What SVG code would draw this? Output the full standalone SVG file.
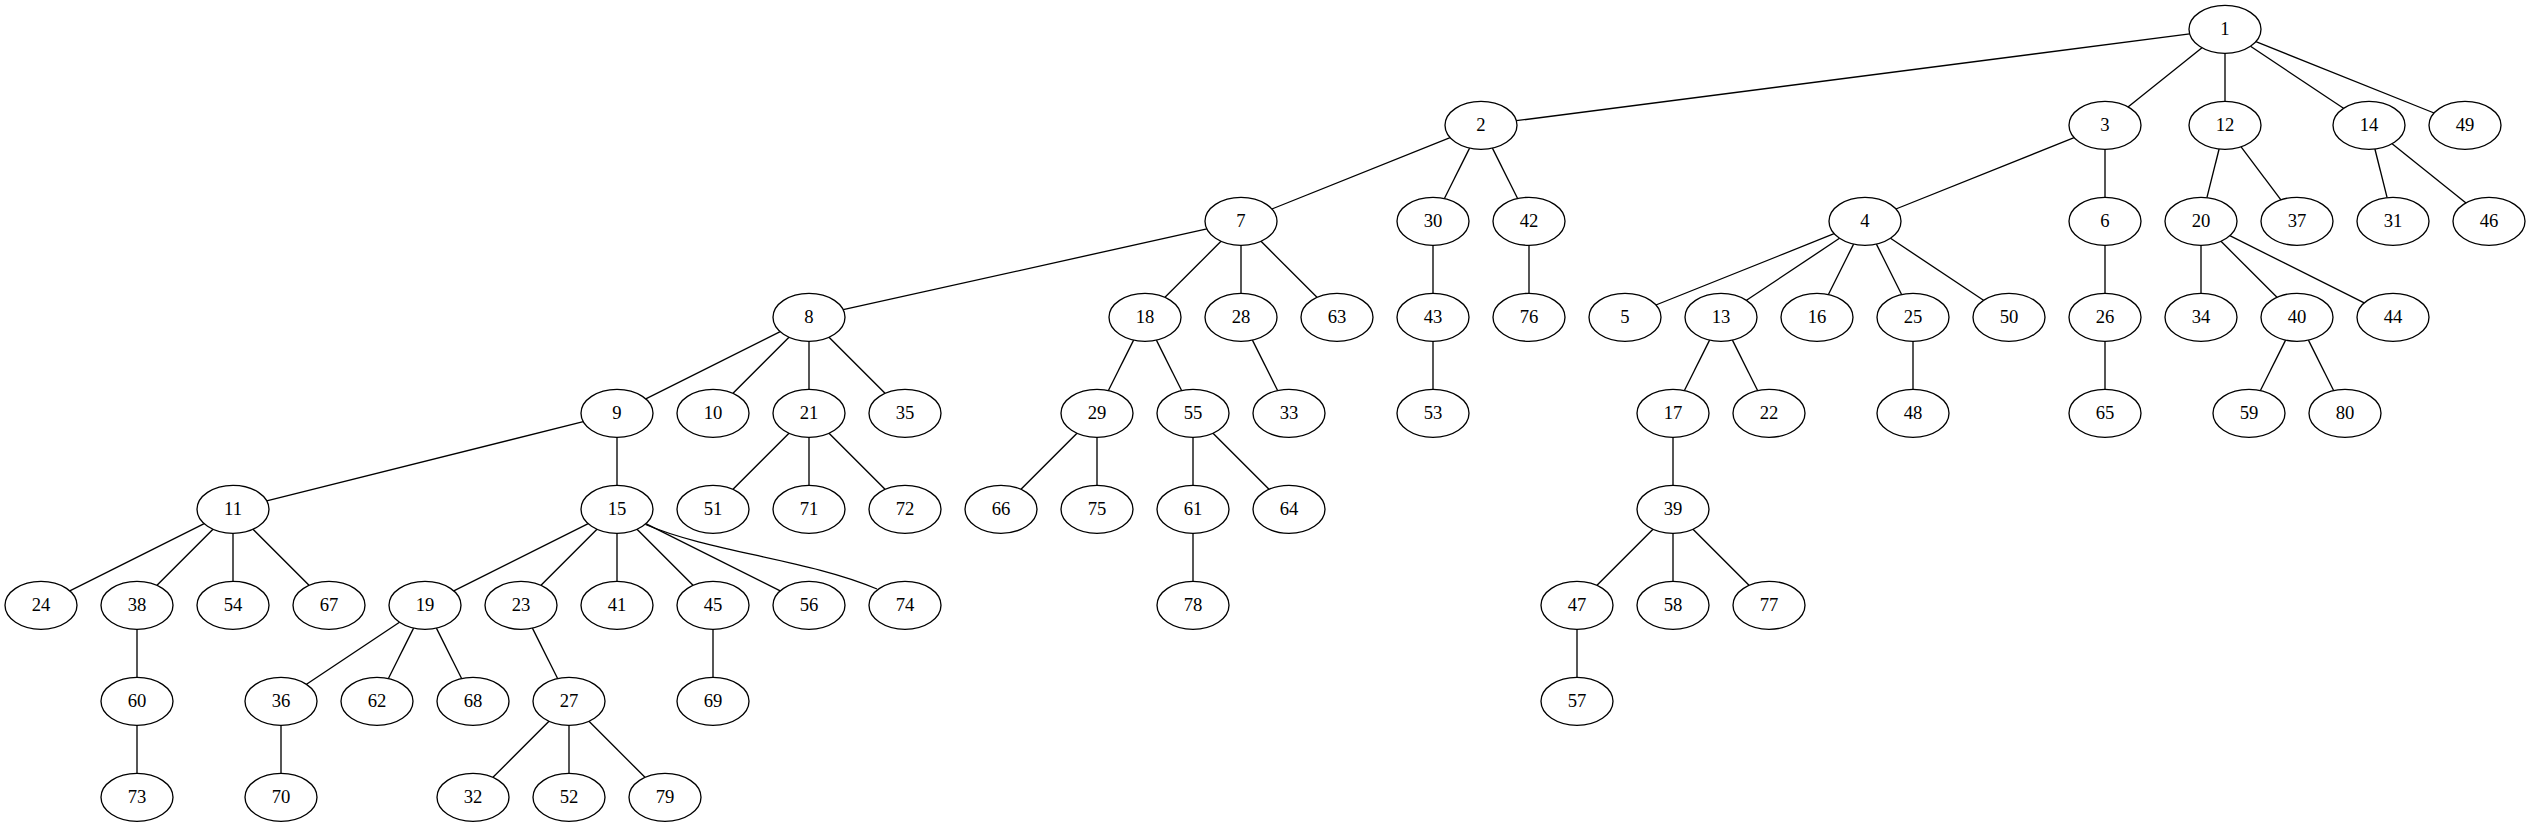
<svg xmlns="http://www.w3.org/2000/svg" width="2531" height="827" viewBox="0 0 2531 827">
<style>
.n ellipse{fill:#ffffff;stroke:#000000;stroke-width:1.33}
.n text{font-family:"Liberation Serif","Times New Roman",serif;font-size:18.67px;text-anchor:middle;fill:#000000}
#edges line,#edges path{stroke:#000000;stroke-width:1.33;fill:none}
</style>
<rect x="0" y="0" width="2531" height="827" fill="#ffffff"/>
<g id="edges">
<line x1="2189.7" y1="33.9" x2="1516.3" y2="120.7"/>
<line x1="2202" y1="47.7" x2="2128" y2="106.9"/>
<line x1="2225" y1="53.3" x2="2225" y2="101.3"/>
<line x1="2250.5" y1="46.3" x2="2343.5" y2="108.3"/>
<line x1="2255.9" y1="41.7" x2="2434.1" y2="113"/>
<line x1="1450.1" y1="137.7" x2="1271.9" y2="209"/>
<line x1="1469.6" y1="148.1" x2="1444.4" y2="198.5"/>
<line x1="1492.4" y1="148.1" x2="1517.6" y2="198.5"/>
<line x1="2074.1" y1="137.7" x2="1895.9" y2="209"/>
<line x1="2105" y1="149.3" x2="2105" y2="197.3"/>
<line x1="2219.1" y1="149" x2="2206.9" y2="197.6"/>
<line x1="2241.1" y1="146.8" x2="2280.9" y2="199.8"/>
<line x1="2374.9" y1="149" x2="2387.1" y2="197.6"/>
<line x1="2392.1" y1="143.7" x2="2466" y2="202.9"/>
<line x1="1206.9" y1="228.9" x2="843.2" y2="309.7"/>
<line x1="1221" y1="241.3" x2="1165" y2="297.3"/>
<line x1="1241" y1="245.3" x2="1241" y2="293.3"/>
<line x1="1261" y1="241.3" x2="1317" y2="297.3"/>
<line x1="1433" y1="245.3" x2="1433" y2="293.3"/>
<line x1="1529" y1="245.3" x2="1529" y2="293.3"/>
<line x1="1834.1" y1="233.7" x2="1655.9" y2="305"/>
<line x1="1839.5" y1="238.3" x2="1746.5" y2="300.3"/>
<line x1="1853.6" y1="244.1" x2="1828.4" y2="294.5"/>
<line x1="1876.4" y1="244.1" x2="1901.6" y2="294.5"/>
<line x1="1890.5" y1="238.3" x2="1983.5" y2="300.3"/>
<line x1="2105" y1="245.3" x2="2105" y2="293.3"/>
<line x1="2201" y1="245.3" x2="2201" y2="293.3"/>
<line x1="2221" y1="241.3" x2="2277" y2="297.3"/>
<line x1="2229.8" y1="235.7" x2="2364.2" y2="302.9"/>
<line x1="780.2" y1="331.7" x2="645.8" y2="398.9"/>
<line x1="789" y1="337.3" x2="733" y2="393.3"/>
<line x1="809" y1="341.3" x2="809" y2="389.3"/>
<line x1="829" y1="337.3" x2="885" y2="393.3"/>
<line x1="1133.6" y1="340.1" x2="1108.4" y2="390.5"/>
<line x1="1156.4" y1="340.1" x2="1181.6" y2="390.5"/>
<line x1="1252.4" y1="340.1" x2="1277.6" y2="390.5"/>
<line x1="1433" y1="341.3" x2="1433" y2="389.3"/>
<line x1="1709.6" y1="340.1" x2="1684.4" y2="390.5"/>
<line x1="1732.4" y1="340.1" x2="1757.6" y2="390.5"/>
<line x1="1913" y1="341.3" x2="1913" y2="389.3"/>
<line x1="2105" y1="341.3" x2="2105" y2="389.3"/>
<line x1="2285.6" y1="340.1" x2="2260.4" y2="390.5"/>
<line x1="2308.4" y1="340.1" x2="2333.6" y2="390.5"/>
<line x1="583.3" y1="421.7" x2="266.7" y2="500.9"/>
<line x1="617" y1="437.3" x2="617" y2="485.3"/>
<line x1="789" y1="433.3" x2="733" y2="489.3"/>
<line x1="809" y1="437.3" x2="809" y2="485.3"/>
<line x1="829" y1="433.3" x2="885" y2="489.3"/>
<line x1="1077" y1="433.3" x2="1021" y2="489.3"/>
<line x1="1097" y1="437.3" x2="1097" y2="485.3"/>
<line x1="1193" y1="437.3" x2="1193" y2="485.3"/>
<line x1="1213" y1="433.3" x2="1269" y2="489.3"/>
<line x1="1673" y1="437.3" x2="1673" y2="485.3"/>
<line x1="204.2" y1="523.7" x2="69.8" y2="590.9"/>
<line x1="213" y1="529.3" x2="157" y2="585.3"/>
<line x1="233" y1="533.3" x2="233" y2="581.3"/>
<line x1="253" y1="529.3" x2="309" y2="585.3"/>
<line x1="588.2" y1="523.7" x2="453.8" y2="590.9"/>
<line x1="597" y1="529.3" x2="541" y2="585.3"/>
<line x1="617" y1="533.3" x2="617" y2="581.3"/>
<line x1="637" y1="529.3" x2="693" y2="585.3"/>
<line x1="645.8" y1="523.7" x2="780.2" y2="590.9"/>
<path d="M645.5,524.5 C710,552 810,560 877,589"/>
<line x1="1193" y1="533.3" x2="1193" y2="581.3"/>
<line x1="1653" y1="529.3" x2="1597" y2="585.3"/>
<line x1="1673" y1="533.3" x2="1673" y2="581.3"/>
<line x1="1693" y1="529.3" x2="1749" y2="585.3"/>
<line x1="137" y1="629.3" x2="137" y2="677.3"/>
<line x1="399.5" y1="622.3" x2="306.5" y2="684.3"/>
<line x1="413.6" y1="628.1" x2="388.4" y2="678.5"/>
<line x1="436.4" y1="628.1" x2="461.6" y2="678.5"/>
<line x1="532.4" y1="628.1" x2="557.6" y2="678.5"/>
<line x1="713" y1="629.3" x2="713" y2="677.3"/>
<line x1="1577" y1="629.3" x2="1577" y2="677.3"/>
<line x1="137" y1="725.3" x2="137" y2="773.3"/>
<line x1="281" y1="725.3" x2="281" y2="773.3"/>
<line x1="549" y1="721.3" x2="493" y2="777.3"/>
<line x1="569" y1="725.3" x2="569" y2="773.3"/>
<line x1="589" y1="721.3" x2="645" y2="777.3"/>
</g>
<g id="node1" class="n"><ellipse cx="2225" cy="29.3" rx="36" ry="24"/><text x="2225" y="34.9">1</text></g>
<g id="node2" class="n"><ellipse cx="1481" cy="125.3" rx="36" ry="24"/><text x="1481" y="130.9">2</text></g>
<g id="node3" class="n"><ellipse cx="2105" cy="125.3" rx="36" ry="24"/><text x="2105" y="130.9">3</text></g>
<g id="node12" class="n"><ellipse cx="2225" cy="125.3" rx="36" ry="24"/><text x="2225" y="130.9">12</text></g>
<g id="node14" class="n"><ellipse cx="2369" cy="125.3" rx="36" ry="24"/><text x="2369" y="130.9">14</text></g>
<g id="node49" class="n"><ellipse cx="2465" cy="125.3" rx="36" ry="24"/><text x="2465" y="130.9">49</text></g>
<g id="node7" class="n"><ellipse cx="1241" cy="221.3" rx="36" ry="24"/><text x="1241" y="226.9">7</text></g>
<g id="node30" class="n"><ellipse cx="1433" cy="221.3" rx="36" ry="24"/><text x="1433" y="226.9">30</text></g>
<g id="node42" class="n"><ellipse cx="1529" cy="221.3" rx="36" ry="24"/><text x="1529" y="226.9">42</text></g>
<g id="node4" class="n"><ellipse cx="1865" cy="221.3" rx="36" ry="24"/><text x="1865" y="226.9">4</text></g>
<g id="node6" class="n"><ellipse cx="2105" cy="221.3" rx="36" ry="24"/><text x="2105" y="226.9">6</text></g>
<g id="node20" class="n"><ellipse cx="2201" cy="221.3" rx="36" ry="24"/><text x="2201" y="226.9">20</text></g>
<g id="node37" class="n"><ellipse cx="2297" cy="221.3" rx="36" ry="24"/><text x="2297" y="226.9">37</text></g>
<g id="node31" class="n"><ellipse cx="2393" cy="221.3" rx="36" ry="24"/><text x="2393" y="226.9">31</text></g>
<g id="node46" class="n"><ellipse cx="2489" cy="221.3" rx="36" ry="24"/><text x="2489" y="226.9">46</text></g>
<g id="node8" class="n"><ellipse cx="809" cy="317.3" rx="36" ry="24"/><text x="809" y="322.9">8</text></g>
<g id="node18" class="n"><ellipse cx="1145" cy="317.3" rx="36" ry="24"/><text x="1145" y="322.9">18</text></g>
<g id="node28" class="n"><ellipse cx="1241" cy="317.3" rx="36" ry="24"/><text x="1241" y="322.9">28</text></g>
<g id="node63" class="n"><ellipse cx="1337" cy="317.3" rx="36" ry="24"/><text x="1337" y="322.9">63</text></g>
<g id="node43" class="n"><ellipse cx="1433" cy="317.3" rx="36" ry="24"/><text x="1433" y="322.9">43</text></g>
<g id="node76" class="n"><ellipse cx="1529" cy="317.3" rx="36" ry="24"/><text x="1529" y="322.9">76</text></g>
<g id="node5" class="n"><ellipse cx="1625" cy="317.3" rx="36" ry="24"/><text x="1625" y="322.9">5</text></g>
<g id="node13" class="n"><ellipse cx="1721" cy="317.3" rx="36" ry="24"/><text x="1721" y="322.9">13</text></g>
<g id="node16" class="n"><ellipse cx="1817" cy="317.3" rx="36" ry="24"/><text x="1817" y="322.9">16</text></g>
<g id="node25" class="n"><ellipse cx="1913" cy="317.3" rx="36" ry="24"/><text x="1913" y="322.9">25</text></g>
<g id="node50" class="n"><ellipse cx="2009" cy="317.3" rx="36" ry="24"/><text x="2009" y="322.9">50</text></g>
<g id="node26" class="n"><ellipse cx="2105" cy="317.3" rx="36" ry="24"/><text x="2105" y="322.9">26</text></g>
<g id="node34" class="n"><ellipse cx="2201" cy="317.3" rx="36" ry="24"/><text x="2201" y="322.9">34</text></g>
<g id="node40" class="n"><ellipse cx="2297" cy="317.3" rx="36" ry="24"/><text x="2297" y="322.9">40</text></g>
<g id="node44" class="n"><ellipse cx="2393" cy="317.3" rx="36" ry="24"/><text x="2393" y="322.9">44</text></g>
<g id="node9" class="n"><ellipse cx="617" cy="413.3" rx="36" ry="24"/><text x="617" y="418.9">9</text></g>
<g id="node10" class="n"><ellipse cx="713" cy="413.3" rx="36" ry="24"/><text x="713" y="418.9">10</text></g>
<g id="node21" class="n"><ellipse cx="809" cy="413.3" rx="36" ry="24"/><text x="809" y="418.9">21</text></g>
<g id="node35" class="n"><ellipse cx="905" cy="413.3" rx="36" ry="24"/><text x="905" y="418.9">35</text></g>
<g id="node29" class="n"><ellipse cx="1097" cy="413.3" rx="36" ry="24"/><text x="1097" y="418.9">29</text></g>
<g id="node55" class="n"><ellipse cx="1193" cy="413.3" rx="36" ry="24"/><text x="1193" y="418.9">55</text></g>
<g id="node33" class="n"><ellipse cx="1289" cy="413.3" rx="36" ry="24"/><text x="1289" y="418.9">33</text></g>
<g id="node53" class="n"><ellipse cx="1433" cy="413.3" rx="36" ry="24"/><text x="1433" y="418.9">53</text></g>
<g id="node17" class="n"><ellipse cx="1673" cy="413.3" rx="36" ry="24"/><text x="1673" y="418.9">17</text></g>
<g id="node22" class="n"><ellipse cx="1769" cy="413.3" rx="36" ry="24"/><text x="1769" y="418.9">22</text></g>
<g id="node48" class="n"><ellipse cx="1913" cy="413.3" rx="36" ry="24"/><text x="1913" y="418.9">48</text></g>
<g id="node65" class="n"><ellipse cx="2105" cy="413.3" rx="36" ry="24"/><text x="2105" y="418.9">65</text></g>
<g id="node59" class="n"><ellipse cx="2249" cy="413.3" rx="36" ry="24"/><text x="2249" y="418.9">59</text></g>
<g id="node80" class="n"><ellipse cx="2345" cy="413.3" rx="36" ry="24"/><text x="2345" y="418.9">80</text></g>
<g id="node11" class="n"><ellipse cx="233" cy="509.3" rx="36" ry="24"/><text x="233" y="514.9">11</text></g>
<g id="node15" class="n"><ellipse cx="617" cy="509.3" rx="36" ry="24"/><text x="617" y="514.9">15</text></g>
<g id="node51" class="n"><ellipse cx="713" cy="509.3" rx="36" ry="24"/><text x="713" y="514.9">51</text></g>
<g id="node71" class="n"><ellipse cx="809" cy="509.3" rx="36" ry="24"/><text x="809" y="514.9">71</text></g>
<g id="node72" class="n"><ellipse cx="905" cy="509.3" rx="36" ry="24"/><text x="905" y="514.9">72</text></g>
<g id="node66" class="n"><ellipse cx="1001" cy="509.3" rx="36" ry="24"/><text x="1001" y="514.9">66</text></g>
<g id="node75" class="n"><ellipse cx="1097" cy="509.3" rx="36" ry="24"/><text x="1097" y="514.9">75</text></g>
<g id="node61" class="n"><ellipse cx="1193" cy="509.3" rx="36" ry="24"/><text x="1193" y="514.9">61</text></g>
<g id="node64" class="n"><ellipse cx="1289" cy="509.3" rx="36" ry="24"/><text x="1289" y="514.9">64</text></g>
<g id="node39" class="n"><ellipse cx="1673" cy="509.3" rx="36" ry="24"/><text x="1673" y="514.9">39</text></g>
<g id="node24" class="n"><ellipse cx="41" cy="605.3" rx="36" ry="24"/><text x="41" y="610.9">24</text></g>
<g id="node38" class="n"><ellipse cx="137" cy="605.3" rx="36" ry="24"/><text x="137" y="610.9">38</text></g>
<g id="node54" class="n"><ellipse cx="233" cy="605.3" rx="36" ry="24"/><text x="233" y="610.9">54</text></g>
<g id="node67" class="n"><ellipse cx="329" cy="605.3" rx="36" ry="24"/><text x="329" y="610.9">67</text></g>
<g id="node19" class="n"><ellipse cx="425" cy="605.3" rx="36" ry="24"/><text x="425" y="610.9">19</text></g>
<g id="node23" class="n"><ellipse cx="521" cy="605.3" rx="36" ry="24"/><text x="521" y="610.9">23</text></g>
<g id="node41" class="n"><ellipse cx="617" cy="605.3" rx="36" ry="24"/><text x="617" y="610.9">41</text></g>
<g id="node45" class="n"><ellipse cx="713" cy="605.3" rx="36" ry="24"/><text x="713" y="610.9">45</text></g>
<g id="node56" class="n"><ellipse cx="809" cy="605.3" rx="36" ry="24"/><text x="809" y="610.9">56</text></g>
<g id="node74" class="n"><ellipse cx="905" cy="605.3" rx="36" ry="24"/><text x="905" y="610.9">74</text></g>
<g id="node78" class="n"><ellipse cx="1193" cy="605.3" rx="36" ry="24"/><text x="1193" y="610.9">78</text></g>
<g id="node47" class="n"><ellipse cx="1577" cy="605.3" rx="36" ry="24"/><text x="1577" y="610.9">47</text></g>
<g id="node58" class="n"><ellipse cx="1673" cy="605.3" rx="36" ry="24"/><text x="1673" y="610.9">58</text></g>
<g id="node77" class="n"><ellipse cx="1769" cy="605.3" rx="36" ry="24"/><text x="1769" y="610.9">77</text></g>
<g id="node60" class="n"><ellipse cx="137" cy="701.3" rx="36" ry="24"/><text x="137" y="706.9">60</text></g>
<g id="node36" class="n"><ellipse cx="281" cy="701.3" rx="36" ry="24"/><text x="281" y="706.9">36</text></g>
<g id="node62" class="n"><ellipse cx="377" cy="701.3" rx="36" ry="24"/><text x="377" y="706.9">62</text></g>
<g id="node68" class="n"><ellipse cx="473" cy="701.3" rx="36" ry="24"/><text x="473" y="706.9">68</text></g>
<g id="node27" class="n"><ellipse cx="569" cy="701.3" rx="36" ry="24"/><text x="569" y="706.9">27</text></g>
<g id="node69" class="n"><ellipse cx="713" cy="701.3" rx="36" ry="24"/><text x="713" y="706.9">69</text></g>
<g id="node57" class="n"><ellipse cx="1577" cy="701.3" rx="36" ry="24"/><text x="1577" y="706.9">57</text></g>
<g id="node73" class="n"><ellipse cx="137" cy="797.3" rx="36" ry="24"/><text x="137" y="802.9">73</text></g>
<g id="node70" class="n"><ellipse cx="281" cy="797.3" rx="36" ry="24"/><text x="281" y="802.9">70</text></g>
<g id="node32" class="n"><ellipse cx="473" cy="797.3" rx="36" ry="24"/><text x="473" y="802.9">32</text></g>
<g id="node52" class="n"><ellipse cx="569" cy="797.3" rx="36" ry="24"/><text x="569" y="802.9">52</text></g>
<g id="node79" class="n"><ellipse cx="665" cy="797.3" rx="36" ry="24"/><text x="665" y="802.9">79</text></g>
</svg>
